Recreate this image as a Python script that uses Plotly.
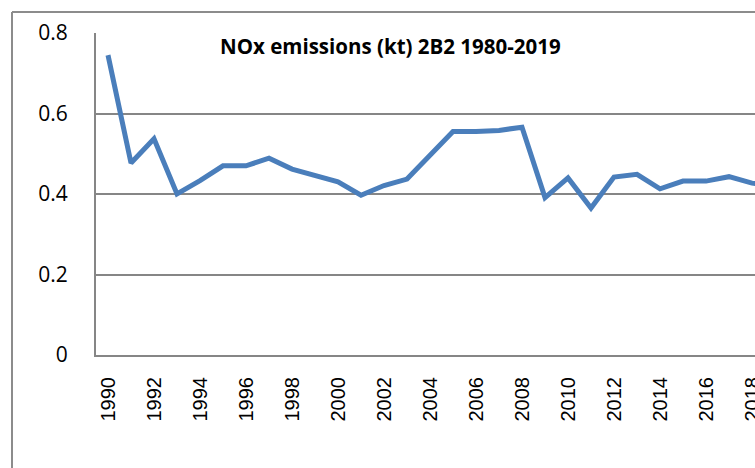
import plotly.graph_objects as go

years = list(range(1990, 2020))
nox_kt = [0.745, 0.477, 0.537, 0.400, 0.433, 0.470, 0.470, 0.489, 0.462, 0.445,
          0.430, 0.397, 0.421, 0.437, 0.497, 0.555, 0.555, 0.558, 0.566, 0.391,
          0.440, 0.365, 0.442, 0.449, 0.413, 0.432, 0.432, 0.443, 0.427, 0.420]
y_ticks = [0, 0.2, 0.4, 0.6, 0.8]
y_tick_labels = ["0", "0.2", "0.4", "0.6", "0.8"]
x_ticks = list(range(1990, 2020, 2))
title_text = "NOx emissions (kt) 2B2 1980-2019"

W, H = 755, 468
L, T, B, R = 96, 33, 113, 0
pw, ph = W - L - R, H - T - B
px_per_year = 23.0
x0 = 1990 - 12 / px_per_year
x1 = x0 + pw / px_per_year

def px_to_paper_x(px):
    return (px - L) / pw

def py_to_paper_y(py):
    return (H - B - py) / ph

fig = go.Figure()
fig.add_trace(go.Scatter(
    x=years, y=nox_kt, mode="lines",
    line=dict(color="#4a7ebb", width=5),
    showlegend=False, hoverinfo="x+y",
))

grid = "#868686"
fig.update_layout(
    width=W, height=H, autosize=False,
    margin=dict(l=L, r=R, t=T, b=B, pad=0, autoexpand=False),
    paper_bgcolor="white", plot_bgcolor="white",
    xaxis=dict(
        range=[x0, x1], tickmode="array", tickvals=x_ticks,
        ticktext=[str(v) for v in x_ticks], tickangle=-90,
        showgrid=False, zeroline=False, showline=True, linecolor=grid, linewidth=2,
        ticks="", ticklabelstandoff=12, ticklabeloverflow="allow", automargin=False,
        tickfont=dict(family="Liberation Sans", size=20, color="black"),
    ),
    yaxis=dict(
        range=[0, 0.8], tickmode="array", tickvals=y_ticks, ticktext=y_tick_labels,
        showgrid=True, gridcolor=grid, gridwidth=2, zeroline=False, automargin=False,
        showline=True, linecolor=grid, linewidth=2, ticks="", ticklabelstandoff=22,
        tickfont=dict(family="Open Sans", size=21, color="black"),
    ),
    annotations=[dict(
        text="<b>" + title_text + "</b>", xref="paper", yref="paper",
        x=px_to_paper_x(390), y=py_to_paper_y(46), xanchor="center", yanchor="middle",
        showarrow=False, font=dict(family="Open Sans", size=20.5, color="black"),
    )],
    shapes=[
        dict(type="line", xref="paper", yref="paper",
             x0=px_to_paper_x(12), x1=px_to_paper_x(12),
             y0=py_to_paper_y(12), y1=py_to_paper_y(470),
             line=dict(color="#8c8c8c", width=2)),
        dict(type="line", xref="paper", yref="paper",
             x0=px_to_paper_x(12), x1=px_to_paper_x(760),
             y0=py_to_paper_y(12), y1=py_to_paper_y(12),
             line=dict(color="#8c8c8c", width=2)),
    ],
)

fig.write_html("out.html", config={"displayModeBar": False},
               post_script="document.body.style.margin='0';document.body.style.overflow='hidden';")
